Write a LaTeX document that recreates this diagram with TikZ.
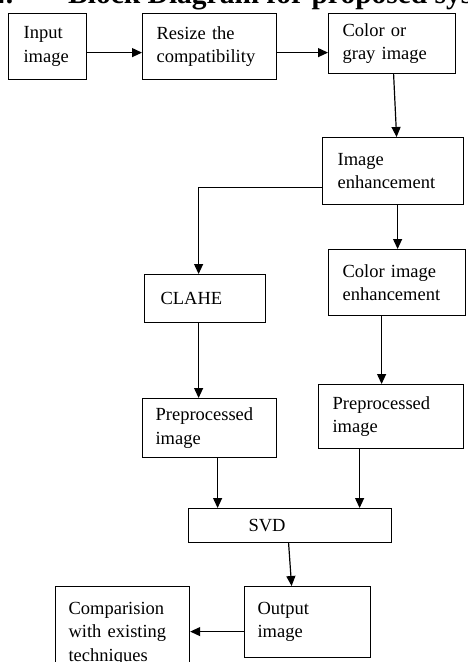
\documentclass[tikz,border=0pt]{standalone}
\usepackage{fontspec}
\setmainfont{Liberation Serif}
\usetikzlibrary{arrows.meta}
\begin{document}
\begin{tikzpicture}[x=1pt,y=-1pt,
  box/.style={draw, line width=1.2pt, inner xsep=0pt, inner ysep=0pt,
    anchor=north west, align=left, font=\fontsize{18.5}{23.5}\selectfont},
  arr/.style={line width=1.2pt, -{Triangle[length=10pt,width=9pt]}},
  ttl/.style={font=\bfseries\fontsize{29.5}{31}\selectfont, inner sep=0pt, anchor=base west}]
\useasboundingbox (0,0) rectangle (467,662);
\clip (0,0) rectangle (467,662);
\node[ttl] (num) at (-9,3) {4.};
\node[ttl] (title) at (68,3) {Block Diagram for proposed system};
\node[box, minimum width=78pt, minimum height=66pt, text width=48pt] (in) at (8,13) {Input\\image};
\node[box, minimum width=134pt, minimum height=66pt, text width=106pt] (resize) at (142,13) {Resize the\\compatibility};
\node[box, minimum width=127pt, minimum height=60pt, text width=99pt] (color) at (328,13) {Color or\\gray image};
\node[box, minimum width=141pt, minimum height=67pt, text width=111pt] (enh) at (322,137) {Image\\enhancement};
\node[box, minimum width=121pt, minimum height=48pt, text width=89pt] (clahe) at (144,274) {CLAHE};
\node[box, minimum width=137pt, minimum height=66pt, text width=109pt] (colenh) at (328,249) {Color image\\enhancement};
\node[box, minimum width=134pt, minimum height=59pt, text width=108pt] (pre1) at (142,398) {Preprocessed\\image};
\node[box, minimum width=145pt, minimum height=64pt, text width=117pt] (pre2) at (318,384) {Preprocessed\\image};
\node[box, minimum width=203pt, minimum height=34pt, text width=83pt] (svd) at (188,508) {SVD};
\node[box, minimum width=126pt, minimum height=71pt, text width=100pt] (out) at (244,586) {Output\\image};
\node[box, minimum width=134pt, minimum height=94pt, text width=108pt] (comp) at (55,586) {Comparision\\with existing\\techniques};
\draw[arr] ([yshift=-6pt]in.east) -- ([yshift=-6pt]in.east -| resize.west);
\draw[arr] ([yshift=-6pt]resize.east) -- ([yshift=-6pt]resize.east -| color.west);
\draw[arr] ([xshift=1.5pt]color.south) -- ([xshift=3.5pt]enh.north);
\draw[arr] ([yshift=-16.5pt]enh.west) -| ([xshift=-6.5pt]clahe.north);
\draw[arr] ([xshift=4.5pt]enh.south) -- ([xshift=4.5pt]enh.south |- colenh.north);
\draw[arr] ([xshift=-6.5pt]clahe.south) -- ([xshift=-6.5pt]clahe.south |- pre1.north);
\draw[arr] ([xshift=-15.5pt]colenh.south) -- ([xshift=-15.5pt]colenh.south |- pre2.north);
\draw[arr] ([xshift=8pt]pre1.south) -- ([xshift=8pt]pre1.south |- svd.north);
\draw[arr] ([xshift=-31.5pt]pre2.south) -- ([xshift=-31.5pt]pre2.south |- svd.north);
\draw[arr] ([xshift=-1.5pt]svd.south) -- ([xshift=-16pt]out.north);
\draw[arr] ([yshift=-9.5pt]out.west) -- ([yshift=-9.5pt]out.west -| comp.east);
\end{tikzpicture}
\end{document}
